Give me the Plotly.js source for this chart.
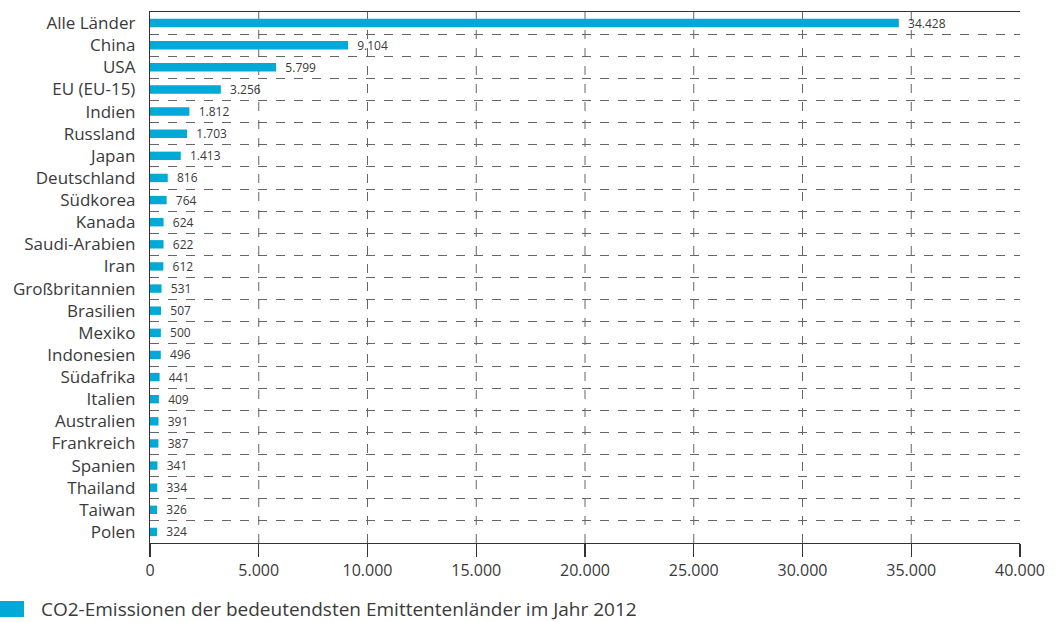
<!DOCTYPE html>
<html>
<head>
<meta charset="utf-8">
<script src="https://cdn.plot.ly/plotly-3.0.1.min.js"></script>
<style>html,body{margin:0;padding:0;background:#fff;}#chart{width:1062px;height:622px;}</style>
</head>
<body>
<div id="chart"></div>
<script>
const categories = ["Alle Länder","China","USA","EU (EU-15)","Indien","Russland","Japan","Deutschland","Südkorea","Kanada","Saudi-Arabien","Iran","Großbritannien","Brasilien","Mexiko","Indonesien","Südafrika","Italien","Australien","Frankreich","Spanien","Thailand","Taiwan","Polen"];
const emissions = [34428,9104,5799,3256,1812,1703,1413,816,764,624,622,612,531,507,500,496,441,409,391,387,341,334,326,324];
const tickValues = [0,5000,10000,15000,20000,25000,30000,35000,40000];
const seriesName = "CO2-Emissionen der bedeutendsten Emittentenländer im Jahr 2012";

const barColor = "#00a9d6";
const textColor = "#3a3a3a";
const gridColor = "#666";
const FONT = "'Open Sans', Lato, sans-serif";

const trace = {
  type: "bar",
  orientation: "h",
  y: categories,
  x: emissions,
  marker: {color: barColor},
  width: 0.38,
  texttemplate: "\u00a0\u00a0%{x:,.0f}",
  textposition: "outside",
  constraintext: "none",
  textfont: {family: FONT, size: 12, color: textColor},
  cliponaxis: false,
  showlegend: false,
  hoverinfo: "x+y"
};

// vertical dashed grid lines at the inner ticks (none at the right edge, as in the reference)
const vGrid = tickValues.slice(1, -1).map(v => ({
  type: "line", xref: "x", yref: "paper", x0: v, x1: v, y0: 0, y1: 1,
  line: {color: gridColor, width: 1, dash: "dash"}, layer: "below"
}));

const layout = {
  width: 1062, height: 622,
  margin: {l: 150, r: 42, t: 12, b: 79},
  paper_bgcolor: "#fff", plot_bgcolor: "#fff",
  separators: ",.",
  font: {family: FONT, color: textColor},
  xaxis: {
    range: [0, 40000],
    tickvals: tickValues,
    tickformat: ",.0f",
    showline: true, linecolor: "#333", linewidth: 1.2,
    mirror: true,
    ticks: "outside", ticklen: 13, tickcolor: "#333", tickwidth: 1.2,
    showgrid: false,
    zeroline: false,
    tickfont: {family: FONT, size: 16, color: textColor}
  },
  yaxis: {
    type: "category",
    autorange: "reversed",
    tickson: "boundaries",
    showline: true, linecolor: "#333", linewidth: 1.2,
    ticks: "", ticklabelstandoff: 10,
    showgrid: true, gridcolor: gridColor, griddash: "dash", gridwidth: 1,
    zeroline: false,
    tickfont: {family: FONT, size: 17, color: textColor}
  },
  shapes: vGrid.concat([{
    type: "rect", xref: "paper", yref: "paper",
    x0: -150/870, x1: -126/870, y0: -58/531, y1: -74/531,
    fillcolor: barColor, line: {width: 0}
  }]),
  annotations: [{
    xref: "paper", yref: "paper",
    x: -111/870, y: -66/531, xanchor: "left", yanchor: "middle",
    text: seriesName, showarrow: false,
    font: {family: FONT, size: 19, color: textColor}
  }]
};

Plotly.newPlot("chart", [trace], layout, {displayModeBar: false, staticPlot: true});
</script>
</body>
</html>
